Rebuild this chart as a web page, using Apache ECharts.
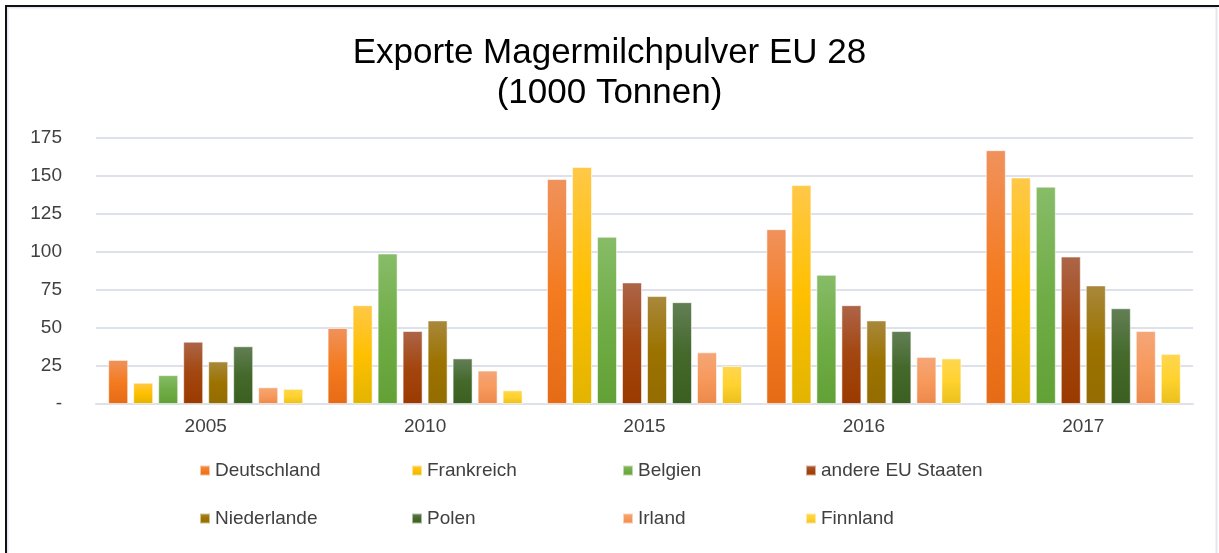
<!DOCTYPE html>
<html>
<head>
<meta charset="utf-8">
<script src="https://cdn.jsdelivr.net/npm/echarts@6/dist/echarts.min.js"></script>
<style>
html,body{margin:0;padding:0;background:#fff;}
#c{width:1219px;height:553px;}
</style>
</head>
<body>
<div id="c"></div>
<script>
const categories = ['2005', '2010', '2015', '2016', '2017'];
const seriesNames = ['Deutschland', 'Frankreich', 'Belgien', 'andere EU Staaten', 'Niederlande', 'Polen', 'Irland', 'Finnland'];
const deutschland = [29, 50, 148, 115, 167];
const frankreich = [14, 65, 156, 144, 149];
const belgien = [19, 99, 110, 85, 143];
const andereEU = [41, 48, 80, 65, 97];
const niederlande = [28, 55, 71, 55, 78];
const polen = [38, 30, 67, 48, 63];
const irland = [11, 22, 34, 31, 48];
const finnland = [10, 9, 25, 30, 33];
const yTicks = [0, 25, 50, 75, 100, 125, 150, 175];

const values = [deutschland, frankreich, belgien, andereEU, niederlande, polen, irland, finnland];
const palette = [
  ['#F0925C', '#F47B20', '#E56B16'],
  ['#FFC848', '#FFC000', '#E2B400'],
  ['#88BC68', '#70AD47', '#62A136'],
  ['#AD6548', '#A3460F', '#9A3A00'],
  ['#A8883C', '#9C7300', '#946C00'],
  ['#637F56', '#44692B', '#3A5F21'],
  ['#F5A678', '#F79A5D', '#EC894A'],
  ['#FFD750', '#FFD22E', '#EAC01C']
];
function grad(c) {
  return new echarts.graphic.LinearGradient(0, 0, 0, 1, [
    {offset: 0, color: c[0]}, {offset: 0.5, color: c[1]}, {offset: 1, color: c[2]}
  ]);
}
const font = "'Liberation Sans', Arial, sans-serif";
const legendLeft = [199, 411, 622, 805];
const legendTop = [461, 509];

const legends = seriesNames.map((n, i) => ({
  data: [n],
  left: legendLeft[i % 4],
  top: legendTop[Math.floor(i / 4)],
  padding: 0,
  itemWidth: 10,
  itemHeight: 10,
  icon: 'rect',
  selectedMode: false,
  textStyle: {fontFamily: font, fontSize: 19, color: '#404040'}
}));

const chart = echarts.init(document.getElementById('c'));
chart.setOption({
  backgroundColor: '#fff',
  animation: false,
  title: {
    text: 'Exporte Magermilchpulver EU 28\n(1000 Tonnen)',
    left: 'center',
    top: 28,
    textStyle: {fontFamily: font, fontSize: 35, fontWeight: 'normal', color: '#000', lineHeight: 40}
  },
  legend: legends,
  grid: {left: 96, right: 26, top: 138, bottom: 149, containLabel: false},
  xAxis: {
    type: 'category',
    data: categories,
    axisTick: {show: false},
    axisLine: {show: true, lineStyle: {color: '#DDE2EA', width: 2}},
    axisLabel: {margin: 13, fontFamily: font, fontSize: 19, color: '#404040'}
  },
  yAxis: {
    type: 'value',
    min: yTicks[0],
    max: yTicks[yTicks.length - 1],
    interval: 25,
    axisLine: {show: false},
    axisTick: {show: false},
    splitLine: {lineStyle: {color: '#DDE2EA', width: 2}},
    axisLabel: {
      margin: 34, fontFamily: font, fontSize: 19, color: '#404040',
      formatter: v => v === 0 ? '-' : String(v)
    }
  },
  series: seriesNames.map((n, i) => ({
    name: n,
    type: 'bar',
    data: values[i],
    barWidth: 20,
    barGap: '25%',
    itemStyle: {color: grad(palette[i]), borderColor: 'rgba(255,255,255,0.55)', borderWidth: 1}
  })),
  graphic: [
    {type: 'rect', shape: {x: 7.5, y: 7.5, width: 1209, height: 560}, style: {fill: 'none', stroke: '#E4E7EF', lineWidth: 2}, silent: true},
    {type: 'line', shape: {x1: 5, y1: 6, x2: 1219, y2: 6}, style: {stroke: '#111', lineWidth: 2}, silent: true},
    {type: 'line', shape: {x1: 6, y1: 5, x2: 6, y2: 553}, style: {stroke: '#111', lineWidth: 2}, silent: true}
  ]
});
</script>
</body>
</html>
